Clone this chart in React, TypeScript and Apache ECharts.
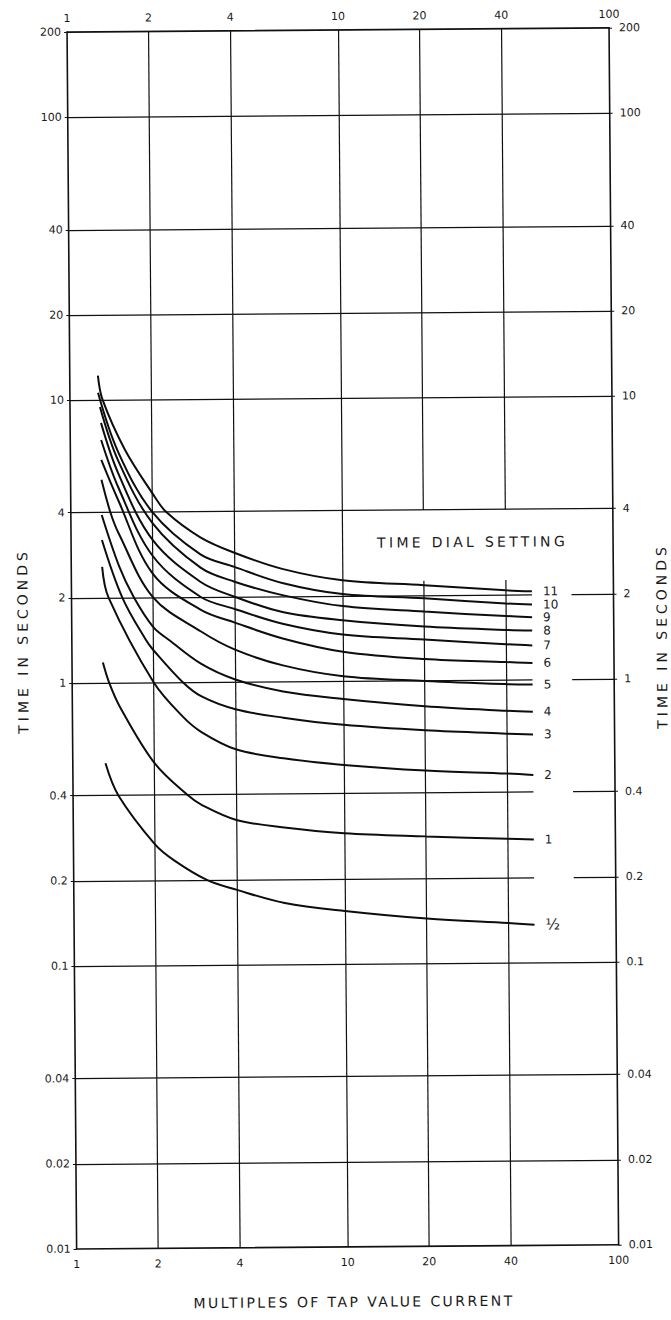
import React, { useEffect, useRef } from "react";
import * as echarts from "echarts";

// ---- Axis ticks -------------------------------------------------------
const xTickValues = [1, 2, 4, 10, 20, 40, 100];
const xTickLabels = ["1", "2", "4", "10", "20", "40", "100"];
const yTickValues = [0.01, 0.02, 0.04, 0.1, 0.2, 0.4, 1, 2, 4, 10, 20, 40, 100, 200];
const yTickLabels = ["0.01", "0.02", "0.04", "0.1", "0.2", "0.4", "1", "2", "4", "10", "20", "40", "100", "200"];

// ---- Time dial settings (curve names) --------------------------------
const dialSettings = ["11", "10", "9", "8", "7", "6", "5", "4", "3", "2", "1", "½"];

// ---- Curves: [multiples of tap value current, time in seconds] -------
const dial11 = [[1.27, 12.2], [1.32, 10], [1.59, 6.66], [2, 4.67], [2.25, 4.0], [3, 3.25], [4, 2.86], [6, 2.5], [10, 2.27], [20, 2.17], [40, 2.07], [50, 2.05]];
const dial10 = [[1.27, 10.6], [1.5, 6.55], [2, 4.0], [3, 2.83], [4, 2.55], [6, 2.23], [10, 2.03], [20, 1.95], [40, 1.86], [50, 1.84]];
const dial9 = [[1.29, 9.45], [1.5, 6.1], [2, 3.66], [3, 2.54], [4, 2.26], [6, 2.02], [10, 1.84], [20, 1.75], [40, 1.68], [50, 1.66]];
const dial8 = [[1.3, 8.3], [1.5, 5.5], [2, 3.19], [3, 2.26], [4, 2.0], [6, 1.76], [10, 1.64], [20, 1.55], [40, 1.5], [50, 1.49]];
const dial7 = [[1.3, 7.22], [1.5, 4.9], [2, 2.8], [3, 2.0], [4, 1.81], [6, 1.6], [10, 1.46], [20, 1.395], [40, 1.335], [50, 1.32]];
const dial6 = [[1.3, 6.14], [1.5, 4.4], [2, 2.42], [3, 1.8], [4, 1.62], [6, 1.42], [10, 1.27], [20, 1.19], [40, 1.155], [50, 1.145]];
const dial5 = [[1.3, 5.22], [1.4, 4.0], [1.5, 3.37], [2, 2.0], [3, 1.51], [4, 1.3], [6, 1.14], [10, 1.04], [20, 0.995], [40, 0.965], [50, 0.96]];
const dial4 = [[1.3, 3.92], [1.5, 2.59], [1.7, 2.0], [2, 1.57], [2.29, 1.41], [3, 1.16], [4, 1.02], [6, 0.922], [10, 0.864], [20, 0.81], [40, 0.777], [50, 0.77]];
const dial3 = [[1.3, 3.2], [1.54, 2.0], [1.88, 1.41], [2, 1.3], [2.56, 1.0], [3, 0.89], [4, 0.8], [6, 0.745], [10, 0.7], [20, 0.666], [40, 0.645], [50, 0.64]];
const dial2 = [[1.3, 2.57], [1.37, 2.0], [2, 1.0], [2.56, 0.755], [3, 0.665], [4, 0.578], [6, 0.535], [10, 0.505], [20, 0.48], [40, 0.466], [50, 0.46]];
const dial1 = [[1.3, 1.18], [1.37, 1.0], [1.5, 0.82], [2, 0.52], [2.64, 0.4], [3, 0.367], [4, 0.325], [6, 0.305], [10, 0.29], [20, 0.281], [40, 0.274], [50, 0.272]];
const dialHalf = [[1.32, 0.52], [1.47, 0.4], [2, 0.268], [2.35, 0.235], [3.1, 0.2], [4, 0.184], [6, 0.165], [10, 0.154], [20, 0.144], [40, 0.138], [50, 0.136]];
const curves = [dial11, dial10, dial9, dial8, dial7, dial6, dial5, dial4, dial3, dial2, dial1, dialHalf];

// ---- Grid lines --------------------------------------------------------
const xGridFull = [2, 4, 10];
const xGridBroken = [20, 40];
const yGridFull = [0.02, 0.04, 0.1, 4, 10, 20, 40, 100];
const yGridBroken = [0.2, 0.4, 1, 2];
const xRange = [1, 100];
const yRange = [0.01, 200];
const labelColumnGap = [50, 70]; // x-interval left open on broken horizontal lines
const titleBoxGap = [2.25, 4]; // t-interval left open on broken vertical lines

const L = Math.log10;
const FONT = "DejaVu Sans";

function fmt(values: number[], labels: string[]) {
  return (v: number) => {
    const i = values.findIndex((t) => Math.abs(L(t) - v) < 1e-6);
    return i >= 0 ? labels[i] : "";
  };
}

function buildOption() {
  const segs: number[][][] = [];
  xGridFull.forEach((x) => segs.push([[L(x), L(yRange[0])], [L(x), L(yRange[1])]]));
  xGridBroken.forEach((x) => {
    segs.push([[L(x), L(yRange[0])], [L(x), L(titleBoxGap[0])]]);
    segs.push([[L(x), L(titleBoxGap[1])], [L(x), L(yRange[1])]]);
  });
  yGridFull.forEach((y) => segs.push([[L(xRange[0]), L(y)], [L(xRange[1]), L(y)]]));
  yGridBroken.forEach((y) => {
    segs.push([[L(xRange[0]), L(y)], [L(labelColumnGap[0]), L(y)]]);
    segs.push([[L(labelColumnGap[1]), L(y)], [L(xRange[1]), L(y)]]);
  });

  const axisLine = { show: true, onZero: false, lineStyle: { color: "#111", width: 1.6 } };
  const numLabel = { color: "#1a1a1a", fontFamily: FONT, fontSize: 11 };
  const nameStyle = { color: "#1a1a1a", fontFamily: FONT, fontSize: 14 };
  const xCustom = xTickValues.map(L);
  const yCustom = yTickValues.map(L);

  const xAxisBase = {
    type: "value",
    min: L(xRange[0]),
    max: L(xRange[1]),
    axisLine,
    axisTick: { show: false },
    splitLine: { show: false },
  };
  const yAxisBase = {
    type: "value",
    min: L(yRange[0]),
    max: L(yRange[1]),
    axisLine,
    axisTick: { show: true, customValues: yCustom, length: 3, inside: false, lineStyle: { color: "#111" } },
    splitLine: { show: false },
  };

  return {
    animation: false,
    backgroundColor: "#ffffff",
    title: {
      text: "TIME DIAL SETTING",
      left: 373,
      top: 531,
      textStyle: { fontFamily: FONT, fontSize: 14, fontWeight: "normal", color: "#1a1a1a" },
    },
    grid: { left: 72, right: 57, top: 30, bottom: 73, containLabel: false, outerBoundsMode: "none" },
    xAxis: [
      {
        ...xAxisBase,
        position: "bottom",
        name: "MULTIPLES OF TAP VALUE CURRENT",
        nameLocation: "middle",
        nameGap: 48,
        nameMoveOverlap: false,
        nameTextStyle: { ...nameStyle, padding: [0, 0, 0, 12] },
        axisLabel: { ...numLabel, customValues: xCustom, formatter: fmt(xTickValues, xTickLabels), margin: 10 },
      },
      {
        ...xAxisBase,
        position: "top",
        axisLabel: { ...numLabel, customValues: xCustom, formatter: fmt(xTickValues, xTickLabels), margin: 8 },
      },
    ],
    yAxis: [
      {
        ...yAxisBase,
        position: "left",
        name: "TIME IN SECONDS",
        nameLocation: "middle",
        nameRotate: 90,
        nameGap: 42,
        nameMoveOverlap: false,
        nameTextStyle: nameStyle,
        axisLabel: { ...numLabel, customValues: yCustom, formatter: fmt(yTickValues, yTickLabels), margin: 6 },
      },
      {
        ...yAxisBase,
        position: "right",
        name: "TIME IN SECONDS",
        nameLocation: "middle",
        nameRotate: 90,
        nameGap: 41,
        nameMoveOverlap: false,
        nameTextStyle: nameStyle,
        axisLabel: { ...numLabel, customValues: yCustom, formatter: fmt(yTickValues, yTickLabels), margin: 10 },
      },
    ],
    series: [
      {
        type: "lines",
        coordinateSystem: "cartesian2d",
        xAxisIndex: 0,
        yAxisIndex: 0,
        silent: true,
        z: 1,
        lineStyle: { color: "#111", width: 1.2, opacity: 1, curveness: 0 },
        data: segs.map((s) => ({ coords: s })),
      },
      ...curves.map((c, i) => ({
        type: "line",
        name: dialSettings[i],
        xAxisIndex: 0,
        yAxisIndex: 0,
        z: 3,
        data: c.map(([x, t]) => [L(x), L(t)]),
        smooth: 0.35,
        symbol: "none",
        showSymbol: false,
        lineStyle: { color: "#0d0d0d", width: 2 },
        endLabel: {
          show: true,
          formatter: dialSettings[i],
          distance: 11,
          color: "#1a1a1a",
          fontFamily: FONT,
          fontSize: i === 11 ? 15 : 12,
        },
      })),
    ],
  };
}

export default function App() {
  const ref = useRef<HTMLDivElement>(null);
  useEffect(() => {
    const el = ref.current;
    if (!el) return;
    const chart = echarts.init(el, null, { renderer: "svg" });
    chart.setOption(buildOption() as any);
    const spacing: Record<string, string> = {
      "MULTIPLES OF TAP VALUE CURRENT": "2.4px",
      "TIME IN SECONDS": "4px",
      "TIME DIAL SETTING": "3.3px",
    };
    el.querySelectorAll("text").forEach((t) => {
      const s = spacing[(t.textContent || "").trim()];
      if (s) t.setAttribute("letter-spacing", s);
    });
    return () => chart.dispose();
  }, []);
  return (
    <div
      style={{
        position: "absolute",
        left: 0,
        top: 0,
        width: 671,
        height: 1320,
        overflow: "hidden",
        background: "#fff",
      }}
    >
      <div
        ref={ref}
        style={{
          width: 671,
          height: 1320,
          transform: "rotate(-0.45deg)",
          transformOrigin: "50% 50%",
        }}
      />
    </div>
  );
}
